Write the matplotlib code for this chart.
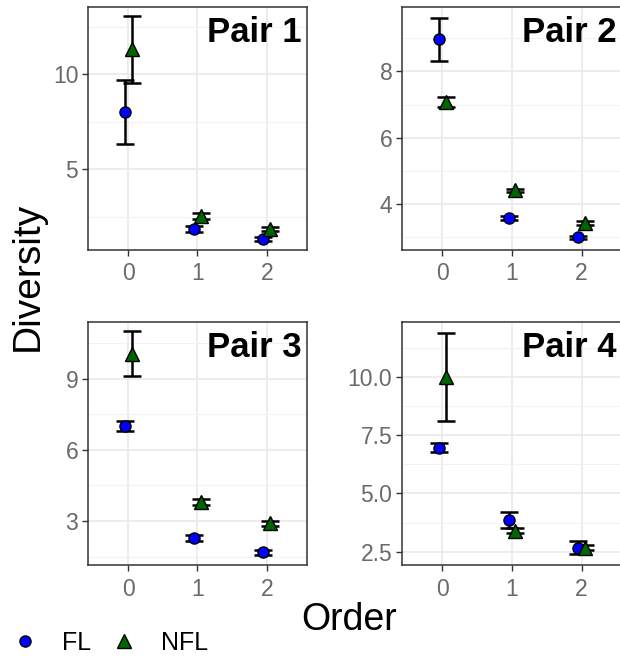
import numpy as np
import matplotlib.pyplot as plt
from matplotlib.ticker import MultipleLocator

plt.rcParams['font.family'] = ['Liberation Sans', 'DejaVu Sans']

# data
orders = [0, 1, 2]
pairs = ["Pair 1", "Pair 2", "Pair 3", "Pair 4"]

fl_mean = [[8.0, 1.86, 1.32],
           [8.98, 3.57, 2.98],
           [7.0, 2.30, 1.68],
           [6.97, 3.85, 2.67]]
fl_err = [[1.7, 0.15, 0.1],
          [0.65, 0.06, 0.05],
          [0.2, 0.12, 0.1],
          [0.18, 0.34, 0.28]]
nfl_mean = [[11.3, 2.53, 1.83],
            [7.08, 4.40, 3.43],
            [10.05, 3.81, 2.90],
            [10.0, 3.40, 2.68]]
nfl_err = [[1.75, 0.15, 0.1],
           [0.15, 0.06, 0.06],
           [0.95, 0.12, 0.1],
           [1.9, 0.1, 0.1]]

ylims = [(0.74, 13.53), (2.6, 9.95), (1.15, 11.38), (1.93, 12.36)]
ymajor = [5, 2, 3, 2.5]
yfmt = ["%d", "%d", "%d", "%.1f"]

W, H = 620, 657
fig = plt.figure(figsize=(W / 100, H / 100), dpi=100)

# panel boxes in pixels: left, top, right, bottom
boxes = [(88, 7, 307, 250), (402, 7, 622, 250),
         (88, 322, 307, 565), (402, 322, 622, 565)]

tick_col = '#6a6a6a'
dodge = 0.05

for i in range(4):
    l, t, r, b = boxes[i]
    ax = fig.add_axes([l / W, 1 - b / H, (r - l) / W, (b - t) / H])
    x = np.array(orders)

    # error bars
    ax.errorbar(x - dodge, fl_mean[i], yerr=fl_err[i], fmt='none', ecolor='black',
                elinewidth=1.8, capsize=6.5, capthick=1.8, zorder=3)
    ax.errorbar(x + dodge, nfl_mean[i], yerr=nfl_err[i], fmt='none', ecolor='black',
                elinewidth=1.8, capsize=6.5, capthick=1.8, zorder=3)
    # points
    ax.plot(x - dodge, fl_mean[i], 'o', color='#0000ff', mec='black', mew=1.0,
            ms=8, zorder=4, label='FL', clip_on=False)
    ax.plot(x + dodge, nfl_mean[i], '^', color='#006400', mec='black', mew=1.0,
            ms=9.5, zorder=4, label='NFL', clip_on=False)

    ax.set_xlim(-0.58, 2.58)
    ax.set_ylim(*ylims[i])
    ax.set_xticks(orders)
    ax.yaxis.set_major_locator(MultipleLocator(ymajor[i]))
    ax.yaxis.set_minor_locator(MultipleLocator(ymajor[i] / 2))
    ax.yaxis.set_major_formatter(plt.FormatStrFormatter(yfmt[i]))

    ax.grid(True, which='major', color='#ebebeb', lw=1.3, zorder=0)
    ax.grid(True, which='minor', axis='y', color='#f2f2f2', lw=0.8, zorder=0)
    ax.set_axisbelow(True)
    ax.tick_params(which='major', length=4, width=1.0, color='#333333',
                   labelsize=16.5, labelcolor=tick_col)
    ax.tick_params(axis='x', pad=5)
    ax.tick_params(axis='y', pad=3)
    ax.tick_params(which='minor', length=0)
    for s in ax.spines.values():
        s.set_color('#333333')
        s.set_linewidth(1.1)

    ax.text(0.975, 0.965, pairs[i], transform=ax.transAxes, ha='right', va='top',
            fontsize=25, fontweight='bold', zorder=5)

    if i == 0:
        handles, labels = ax.get_legend_handles_labels()

# axis titles
fig.text(28 / W, 1 - 276 / H, "Diversity", rotation=90, ha='center', va='center',
         fontsize=28)
fig.text(349 / W, 1 - 620 / H, "Order", ha='center', va='center', fontsize=27)

# legend at the bottom left
fig.legend(handles, labels, loc='center left', bbox_to_anchor=(-3 / W, 1 - 643 / H),
           ncol=2, frameon=False, fontsize=18, handletextpad=0.88,
           columnspacing=0.75, handlelength=1.2, borderaxespad=0.1)

plt.savefig("out.png", dpi=100)
